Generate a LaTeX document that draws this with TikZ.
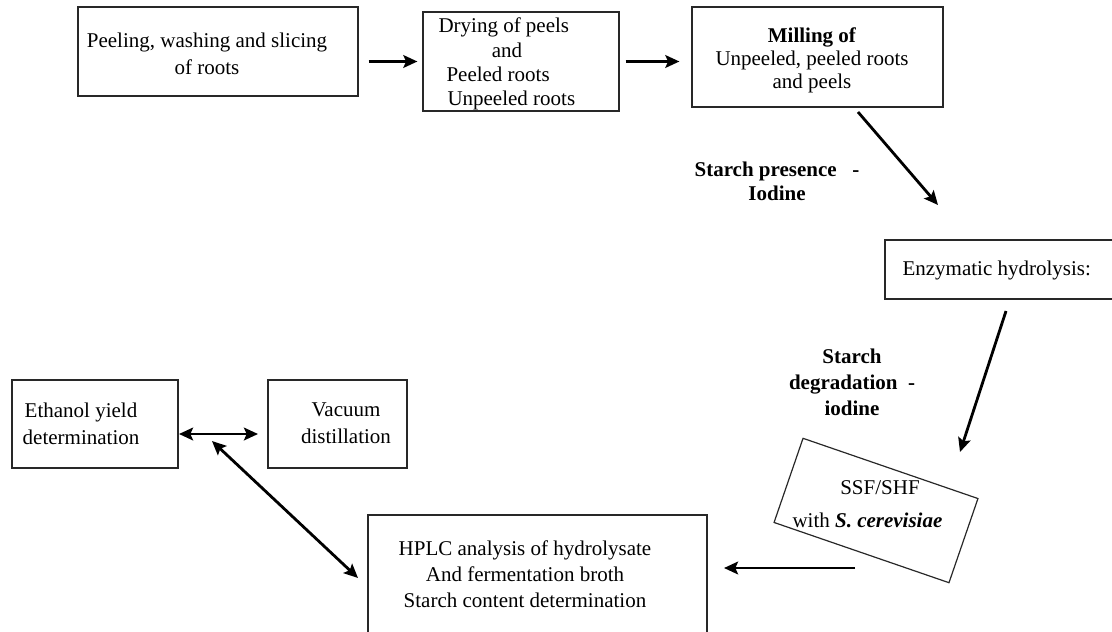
\documentclass[tikz,border=0pt]{standalone}
\usepackage{fontspec}
\setmainfont{Liberation Serif}
\usetikzlibrary{arrows.meta}

\tikzset{every picture/.style={line width=0.75pt}}
\tikzset{
  box/.style={draw={rgb, 255:red, 40; green, 40; blue, 40}, line width=0.9pt, inner sep=0pt},
  txt/.style={inner sep=0pt, font=\fontsize{15.75}{#1}\selectfont},
  txt/.default=18pt,
  arr/.style={line width=2.1pt, -{Stealth[length=10.5pt,width=9.5pt,inset=2pt]}},
  darr/.style={line width=2.1pt, {Stealth[length=10.5pt,width=9.5pt,inset=2pt]}-{Stealth[length=10.5pt,width=9.5pt,inset=2pt]}}
}

\begin{document}
\begin{tikzpicture}[x=0.75pt,y=0.75pt,yscale=-1,xscale=1]
\useasboundingbox (0,0) rectangle (1112,631);
\clip (0,0) rectangle (1112,631);

%Shape: Rectangle [peel]
\node [box, minimum width=210pt, minimum height=66.75pt] (peel) at (218,51.5) {};
%Shape: Rectangle [dry]
\node [box, minimum width=147pt, minimum height=74.25pt] (dry) at (521,61.5) {};
%Shape: Rectangle [mill]
\node [box, minimum width=188.25pt, minimum height=75pt] (mill) at (817.5,57) {};
%Shape: Rectangle [enz]
\node [box, minimum width=180pt, minimum height=44.25pt] (enz) at (1005,269.5) {};
%Shape: Rectangle [ssf]
\node [box, minimum width=138.75pt, minimum height=66.75pt, rotate=-19] (ssf) at (876,510.5) {};
%Shape: Rectangle [hplc]
\node [box, minimum width=254.25pt, minimum height=101.25pt] (hplc) at (537.5,582.5) {};
%Shape: Rectangle [eth]
\node [box, minimum width=124.5pt, minimum height=66pt] (eth) at (95,424) {};
%Shape: Rectangle [vac]
\node [box, minimum width=104.25pt, minimum height=66pt] (vac) at (337.5,424) {};

% Text Node
\node [txt=20pt, align=center] (t-peel) at (207,53.5) {Peeling, washing and slicing\\of roots};
% Text Node
\node [txt=18.2pt, align=left, anchor=west] (t-dry) at (438,64) {Drying of peels\\\hspace*{40pt}and\\\hspace*{6pt}Peeled roots\\\hspace*{6.75pt}Unpeeled roots};
% Text Node
\node [txt=17pt, align=center] (t-mill) at (812,60.5) {\textbf{Milling of}\\Unpeeled, peeled roots\\and peels};
% Text Node
\node [txt, anchor=west] (t-enz) at (902,270) {Enzymatic hydrolysis:};
% Text Node
\node [txt] (t-ssf) at (880,488) {SSF/SHF};
% Text Node
\node [txt, anchor=west] (t-yeast) at (792,520) {with \textbf{\textit{S. cerevisiae}}};
% Text Node
\node [txt=19.5pt, align=center] (t-hplc) at (525,574) {HPLC analysis of hydrolysate\\And fermentation broth\\Starch content determination};
% Text Node
\node [txt=20.25pt, align=center] (t-eth) at (81,423.5) {Ethanol yield\\determination};
% Text Node
\node [txt=20.25pt, align=center] (t-vac) at (346,423.5) {Vacuum\\distillation};
% Text Node
\node [txt, align=center] (lab-presence) at (777,181) {\bfseries Starch presence\ \ \ -\\\bfseries Iodine};
% Text Node
\node [txt=19.5pt, align=center] (lab-degrad) at (852,382) {\bfseries Starch\\\bfseries degradation\ \ -\\\bfseries iodine};

%Straight Lines
\coordinate (mill-out) at (858,112);
\coordinate (enz-in) at (938,205);
\coordinate (enz-out) at (1006,311);
\coordinate (ssf-in) at (960,452);
\coordinate (ssf-out) at (855,568);
\coordinate (hplc-in) at (724,568);
\coordinate (eth-r) at (179,434);
\coordinate (vac-l) at (258,434);
\coordinate (eth-d) at (212,441);
\coordinate (hplc-l) at (358,578);

\draw [arr, shorten <=7.5pt, shorten >=3.75pt] (peel.east |- dry.west) -- (dry.west);
\draw [arr, shorten <=4.5pt, shorten >=9pt] (dry.east) -- (dry.east -| mill.west);
\draw [arr] (mill-out) -- (enz-in);
\draw [arr] (enz-out) -- (ssf-in);
\draw [arr] (ssf-out) -- (hplc-in);
\draw [darr] (eth-r) -- (vac-l);
\draw [darr] (eth-d) -- (hplc-l);
\end{tikzpicture}
\end{document}
